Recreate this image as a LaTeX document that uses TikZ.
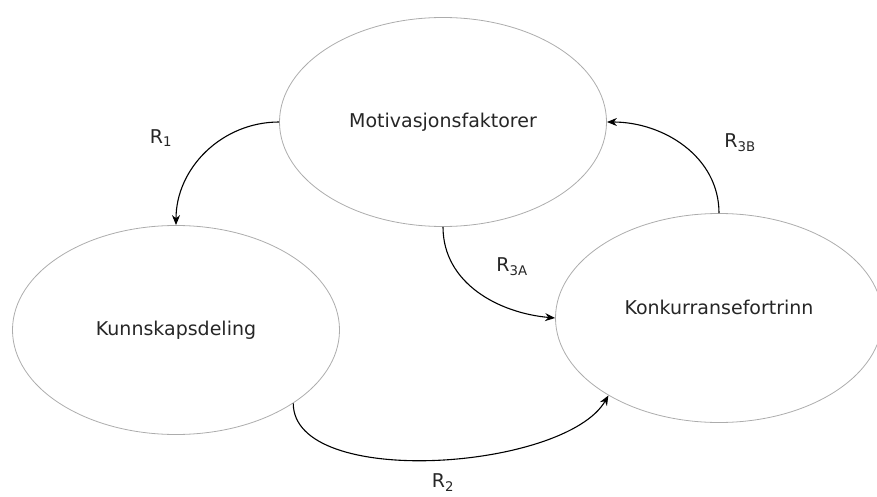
\documentclass[tikz,border=0pt]{standalone}
\usepackage{fontspec}
\setmainfont{DejaVu Sans}
\usetikzlibrary{shapes.geometric,arrows.meta}
\tikzset{
	bubble/.style={ellipse,draw=gray!65,line width=0.8pt,minimum width=327pt,minimum height=209pt,inner sep=0pt},
	link/.style={->,line width=1.1pt},
	rlabel/.style={inner sep=0pt}
}
\begin{document}
\begin{tikzpicture}[>={Stealth[length=10pt,width=8pt]},x=1pt,y=1pt,font=\fontsize{19}{22}\selectfont,text=black!85]
		\useasboundingbox (0,0) rectangle (877,-497);
		\node[bubble] (motiv) at (443,-122) {Motivasjonsfaktorer};
		\node[bubble] (kunn) at (176,-330) {Kunnskapsdeling};
		\node[bubble,label={[yshift=11pt]center:Konkurransefortrinn}] (konk) at (719,-318) {};
		\draw[link] (motiv.west) to[out=180,in=90] (kunn.north);
		\draw[link] (motiv.south) to[out=-90,in=175] (konk.west);
		\draw[link] (konk.north) to[out=90,in=0] (motiv.east);
		\draw[link] (kunn.-32) to[out=-90,in=-120,looseness=0.7] (konk.215);
		\node[rlabel] (r1) at (161,-138) {R\textsubscript{1}};
		\node[rlabel] (r3a) at (512,-267) {R\textsubscript{3A}};
		\node[rlabel] (r3b) at (740,-143) {R\textsubscript{3B}};
		\node[rlabel,anchor=south] (r2) at (443,-492) {R\textsubscript{2}};
		\end{tikzpicture}
\end{document}
